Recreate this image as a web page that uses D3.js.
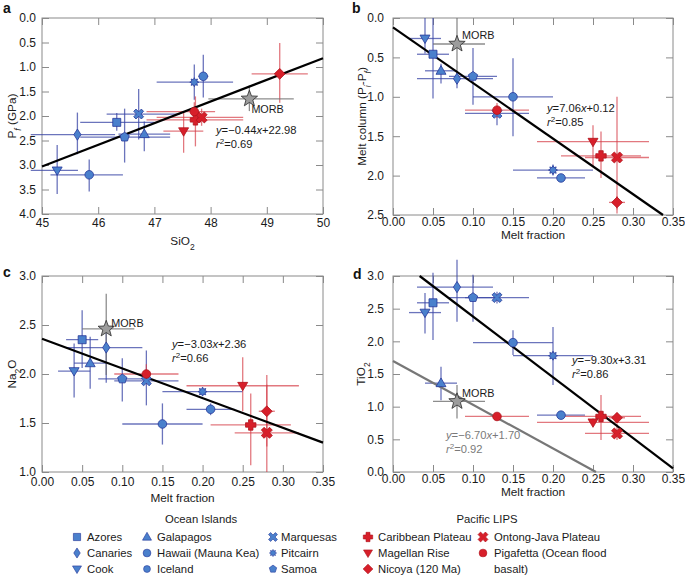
<!DOCTYPE html>
<html><head><meta charset="utf-8">
<script src="https://cdn.jsdelivr.net/npm/d3@7"></script>
<style>
body{margin:0;background:#fff;}
svg{display:block;font-family:"Liberation Sans",Arial,Helvetica,sans-serif;}
</style>
</head><body>
<svg id="chart" width="685" height="576"></svg>
<script>
// ---------------- DATA ----------------
const sites = ["Azores","Canaries","Cook","Galapagos","Hawaii (Mauna Kea)","Iceland","Marquesas","Pitcairn","Samoa",
  "Caribbean Plateau","Magellan Rise","Nicoya (120 Ma)","Ontong-Java Plateau","Pigafetta (Ocean flood basalt)","MORB"];
const siteGroup = ["OI","OI","OI","OI","OI","OI","OI","OI","OI","LIP","LIP","LIP","LIP","LIP","MORB"];
const siteShape = ["square","diamond","triDown","triUp","circle","circle","cross","asterisk","pentagon",
  "plus","triDown","diamondWide","xThick","circle","star"];

// Panel a: SiO2 vs Pf (GPa)
const sio2   = [46.33,45.63,45.27,46.82,45.84,47.87,46.72,47.71,46.47,47.73,47.52,49.23,47.84,47.71,48.69];
const sio2Lo = [45.68,44.80,44.80,46.36,45.15,47.78,46.15,47.04,45.68,46.86,47.16,48.73,47.04,46.86,47.96];
const sio2Hi = [47.00,46.30,45.64,47.28,46.44,47.96,47.45,48.40,47.28,48.58,47.87,49.73,48.58,48.08,49.48];
const pf     = [2.13,2.38,3.11,2.37,3.20,1.19,1.96,1.31,2.43,2.08,2.31,1.14,2.03,1.91,1.65];
const pfLo   = [1.94,1.93,2.59,2.11,2.89,0.75,1.45,0.95,1.85,1.60,1.92,0.51,1.85,1.72,1.38];
const pfHi   = [2.30,2.78,3.59,2.72,3.54,1.62,2.48,1.67,2.95,2.62,2.75,1.73,2.20,2.10,1.90];

// Melt fraction (panels b, c, d)
const meltFraction = [0.05,0.08,0.04,0.06,0.15,0.21,0.13,0.20,0.10,0.26,0.25,0.28,0.28,0.13,0.08];
const meltLo       = [0.03,0.03,0.02,0.04,0.10,0.18,0.09,0.15,0.07,0.21,0.18,0.27,0.24,0.09,0.05];
const meltHi       = [0.07,0.125,0.06,0.08,0.20,0.24,0.17,0.25,0.13,0.31,0.32,0.29,0.32,0.17,0.115];

// Panel b: melt column (Pi-Pf)
const meltColumn   = [0.46,0.77,0.26,0.67,1.00,2.03,1.21,1.93,0.74,1.75,1.57,2.34,1.77,1.17,0.33];
const meltColumnLo = [0.00,0.70,0.00,0.58,0.51,1.98,1.12,1.86,0.38,1.44,1.36,2.26,1.00,1.08,0.00];
const meltColumnHi = [1.02,0.89,0.45,0.83,1.50,2.08,1.36,2.00,1.10,2.03,1.89,2.43,2.48,1.27,0.75];

// Panel c: Na2O
const na2o   = [2.35,2.27,2.03,2.11,1.49,1.64,1.93,1.82,1.95,1.48,1.88,1.62,1.40,2.00,2.46];
const na2oLo = [2.06,1.91,1.76,1.85,1.28,1.58,1.68,1.78,1.72,1.07,1.62,1.26,1.00,1.90,1.99];
const na2oHi = [2.65,2.47,2.31,2.38,1.70,1.70,2.24,1.86,2.16,1.80,2.17,1.99,1.89,2.10,2.82];

// Panel d: TiO2
const tio2   = [2.59,2.83,2.44,1.36,1.98,0.87,2.67,1.78,2.67,0.85,0.76,0.83,0.59,0.85,1.08];
const tio2Lo = [2.02,2.30,2.12,1.10,1.79,0.83,2.58,1.33,2.30,0.49,0.70,0.78,0.49,0.80,0.82];
const tio2Hi = [3.05,3.25,2.74,1.61,2.17,0.91,2.76,2.22,3.02,1.18,0.82,0.88,0.74,0.90,1.33];

// Regression lines (end points) and labels
const fitAx = [45, 50],      fitAy = [3.03, 0.82];
const fitBx = [0, 0.3375],   fitBy = [0.12, 2.50];
const fitCx = [0, 0.35],     fitCy = [2.36, 1.30];
const fitDx = [0.0333, 0.35], fitDy = [3.00, 0.055];
const fitD2x = [0, 0.2537],  fitD2y = [1.70, 0.00];
const fitLabels = [
  ["−0.44","+22.98","0.69"],
  ["7.06","+0.12","0.85"],
  ["−3.03","+2.36","0.66"],
  ["−9.30","+3.31","0.86"],
  ["−6.70","+1.70","0.92"]
];

// Tick values
const sio2Ticks = [45,46,47,48,49,50];
const pfTicks = [0,0.5,1,1.5,2,2.5,3,3.5,4];
const meltTicks = [0,0.05,0.10,0.15,0.20,0.25,0.30,0.35];
const columnTicks = [0,0.5,1,1.5,2,2.5];
const na2oTicks = [1,1.5,2,2.5,3];
const tio2Ticks = [0,0.5,1,1.5,2,2.5,3];

// ---------------- STYLE ----------------
const STY = {
  OI:   {fill:"#4a80cc", stroke:"#27389a", err:"#3a45a6", errOp:0.75},
  LIP:  {fill:"#d71f2a", stroke:"#b0131c", err:"#d63f48", errOp:0.7},
  MORB: {fill:"#9c9c9c", stroke:"#2b2b2b", err:"#707070", errOp:0.8}
};
const FRAME = "#8a8a8a";
const TICKFS = 12;
const TITLEFS = 11.8;
const FITFS = 11.2;
const svg = d3.select("#chart");

function polyPath(pts){ return "M"+pts.map(p=>p[0].toFixed(2)+","+p[1].toFixed(2)).join("L")+"Z"; }
function regular(n,r){ return d3.range(n).map(i=>{const a=2*Math.PI*i/n; return [r*Math.sin(a), -r*Math.cos(a)];}); }
function starPts(n,ro,ri){ return d3.range(2*n).map(i=>{const r=i%2?ri:ro; const a=Math.PI*i/n; return [r*Math.sin(a), -r*Math.cos(a)];}); }
function plusPts(w,L){ return [[w,-L],[w,-w],[L,-w],[L,w],[w,w],[w,L],[-w,L],[-w,w],[-L,w],[-L,-w],[-w,-w],[-w,-L]]; }
function rot(pts,deg){ const a=deg*Math.PI/180,c=Math.cos(a),s=Math.sin(a); return pts.map(([x,y])=>[x*c-y*s,x*s+y*c]); }

const shapePaths = {
  square: polyPath([[-4,-4],[4,-4],[4,4],[-4,4]]),
  diamond: polyPath([[0,-5.6],[3.6,0],[0,5.6],[-3.6,0]]),
  diamondWide: polyPath([[0,-5.4],[5.4,0],[0,5.4],[-5.4,0]]),
  triDown: polyPath([[-5,-3.4],[5,-3.4],[0,5]]),
  triUp: polyPath([[0,-5.2],[5,3.5],[-5,3.5]]),
  circle: d3.symbol(d3.symbolCircle, Math.PI*4.3*4.3)(),
  pentagon: polyPath(regular(5,4.9)),
  cross: polyPath(rot(plusPts(1.6,5.4),45)),
  asterisk: polyPath(starPts(8,4.5,2.7)),
  plus: polyPath(plusPts(2.2,5.2)),
  xThick: polyPath(rot(plusPts(2.0,5.8),45)),
  star: polyPath(starPts(5,8.6,3.6))
};

function richText(g, x, y, segs, opts){
  const fs = opts.size||12;
  const t = g.append("text").attr("x",x).attr("y",y)
    .attr("font-size",fs).attr("fill",opts.fill||"#1a1a1a")
    .attr("text-anchor",opts.anchor||"start");
  if(opts.rotate) t.attr("transform",`rotate(-90,${x},${y})`);
  segs.forEach(s=>{
    const ts = t.append("tspan").text(s.t);
    if(s.it) ts.attr("font-style","italic");
    if(s.sub) ts.attr("baseline-shift","sub").attr("font-size",fs*0.72);
    if(s.sup) ts.attr("baseline-shift","super").attr("font-size",fs*0.72);
  });
  return t;
}

const panels = [
  {letter:"a", lx:3, ly:13, left:42,right:323,top:18,bottom:214,
   x:sio2,xLo:sio2Lo,xHi:sio2Hi,y:pf,yLo:pfLo,yHi:pfHi,
   xDom:[45,50], yDom:[0,4], yDown:true, xTicks:sio2Ticks, yTicks:pfTicks,
   xFmt:d3.format("d"), yFmt:d3.format(".1f"), xPad:4, yPad:6,
   xTitle:[{t:"SiO"},{t:"2",sub:true}], xTitleY:245,
   yTitle:[{t:"P"},{t:"f",sub:true,it:true},{t:" (GPa)"}], yTitleX:16,
   fits:[{x:fitAx,y:fitAy,color:"#000",lab:0,tx:216,ty:134}],
   morb:{dx:2,dy:14}},
  {letter:"b", lx:352, ly:13, left:393,right:673,top:18,bottom:215,
   x:meltFraction,xLo:meltLo,xHi:meltHi,y:meltColumn,yLo:meltColumnLo,yHi:meltColumnHi,
   xDom:[0,0.35], yDom:[0,2.5], yDown:true, xTicks:meltTicks, yTicks:columnTicks,
   xFmt:d3.format(".2f"), yFmt:d3.format(".1f"), xPad:2, yPad:9,
   xTitle:[{t:"Melt fraction"}], xTitleY:239,
   yTitle:[{t:"Melt column (P"},{t:"i",sub:true,it:true},{t:"-P"},{t:"f",sub:true,it:true},{t:")"}], yTitleX:366,
   fits:[{x:fitBx,y:fitBy,color:"#000",lab:1,tx:547,ty:112}],
   morb:{dx:5,dy:-5}},
  {letter:"c", lx:3, ly:277, left:42,right:323,top:276,bottom:472,
   x:meltFraction,xLo:meltLo,xHi:meltHi,y:na2o,yLo:na2oLo,yHi:na2oHi,
   xDom:[0,0.35], yDom:[1,3], yDown:false, xTicks:meltTicks, yTicks:na2oTicks,
   xFmt:d3.format(".2f"), yFmt:d3.format(".1f"), xPad:5.5, yPad:6,
   xTitle:[{t:"Melt fraction"}], xTitleY:502,
   yTitle:[{t:"Na"},{t:"2",sub:true},{t:"O"}], yTitleX:16,
   fits:[{x:fitCx,y:fitCy,color:"#000",lab:2,tx:172,ty:348}],
   morb:{dx:5,dy:-2}},
  {letter:"d", lx:353, ly:279, left:393,right:673,top:276,bottom:472,
   x:meltFraction,xLo:meltLo,xHi:meltHi,y:tio2,yLo:tio2Lo,yHi:tio2Hi,
   xDom:[0,0.35], yDom:[0,3], yDown:false, xTicks:meltTicks, yTicks:tio2Ticks,
   xFmt:d3.format(".2f"), yFmt:d3.format(".1f"), xPad:2, yPad:9,
   xTitle:[{t:"Melt fraction"}], xTitleY:496,
   yTitle:[{t:"TiO"},{t:"2",sub:true}], yTitleX:365,
   fits:[{x:fitDx,y:fitDy,color:"#000",lab:3,tx:572,ty:364},
         {x:fitD2x,y:fitD2y,color:"#777",lab:4,tx:446,ty:439}],
   morb:{dx:5,dy:-4}}
];

panels.forEach(P=>{
  const g = svg.append("g");
  const xs = d3.scaleLinear().domain(P.xDom).range([P.left,P.right]);
  const ys = d3.scaleLinear().domain(P.yDom).range(P.yDown?[P.top,P.bottom]:[P.bottom,P.top]);

  g.append("rect").attr("x",P.left).attr("y",P.top).attr("width",P.right-P.left).attr("height",P.bottom-P.top)
    .attr("fill","none").attr("stroke",FRAME).attr("stroke-width",1);

  const axes = [
    [d3.axisBottom(xs).tickValues(P.xTicks).tickFormat(P.xFmt).tickPadding(P.xPad), `translate(0,${P.bottom})`],
    [d3.axisTop(xs).tickValues(P.xTicks).tickFormat(""), `translate(0,${P.top})`],
    [d3.axisLeft(ys).tickValues(P.yTicks).tickFormat(P.yFmt).tickPadding(P.yPad), `translate(${P.left},0)`],
    [d3.axisRight(ys).tickValues(P.yTicks).tickFormat(""), `translate(${P.right},0)`]
  ];
  axes.forEach(([ax,tr])=>{
    const a = g.append("g").attr("transform",tr).call(ax.tickSizeInner(-7).tickSizeOuter(0));
    a.select(".domain").remove();
    a.selectAll("line").attr("stroke",FRAME);
    a.selectAll("text").attr("font-size",TICKFS).attr("fill","#1a1a1a");
    a.attr("font-family",null);
  });

  richText(g,(P.left+P.right)/2,P.xTitleY,P.xTitle,{anchor:"middle",size:TITLEFS});
  richText(g,P.yTitleX,(P.top+P.bottom)/2,P.yTitle,{anchor:"middle",size:TITLEFS,rotate:true});
  g.append("text").attr("x",P.lx).attr("y",P.ly).text(P.letter)
    .attr("font-size",14).attr("font-weight","bold").attr("fill","#111");

  const idx = d3.range(sites.length);
  const eb = g.append("g");
  idx.forEach(i=>{
    const s = STY[siteGroup[i]];
    eb.append("line").attr("x1",xs(P.xLo[i])).attr("x2",xs(P.xHi[i])).attr("y1",ys(P.y[i])).attr("y2",ys(P.y[i]))
      .attr("stroke",s.err).attr("stroke-opacity",s.errOp).attr("stroke-width",1.3);
    eb.append("line").attr("x1",xs(P.x[i])).attr("x2",xs(P.x[i])).attr("y1",ys(P.yLo[i])).attr("y2",ys(P.yHi[i]))
      .attr("stroke",s.err).attr("stroke-opacity",s.errOp).attr("stroke-width",1.3);
  });

  P.fits.forEach(f=>{
    g.append("line").attr("x1",xs(f.x[0])).attr("y1",ys(f.y[0])).attr("x2",xs(f.x[1])).attr("y2",ys(f.y[1]))
      .attr("stroke",f.color).attr("stroke-width",2.2);
    const L = fitLabels[f.lab];
    const col = f.color==="#000"?"#1a1a1a":"#7a7a7a";
    richText(g,f.tx,f.ty,[{t:"y",it:true},{t:"="+L[0]},{t:"x",it:true},{t:L[1]}],{size:FITFS,fill:col});
    richText(g,f.tx,f.ty+13.5,[{t:"r",it:true},{t:"2",sup:true},{t:"="+L[2]}],{size:FITFS,fill:col});
  });

  idx.forEach(i=>{
    const s = STY[siteGroup[i]];
    g.append("path").attr("d",shapePaths[siteShape[i]])
      .attr("transform",`translate(${xs(P.x[i])},${ys(P.y[i])})`)
      .attr("fill",s.fill).attr("stroke",s.stroke).attr("stroke-width",0.8).attr("stroke-linejoin","round");
  });
  const m = sites.length-1;
  g.append("text").attr("x",xs(P.x[m])+P.morb.dx).attr("y",ys(P.y[m])+P.morb.dy)
    .text("MORB").attr("font-size",10.8).attr("fill","#1a1a1a");
});

// ---------------- LEGEND ----------------
const legendCols = [
  {mx:77, tx:87,  items:[0,1,2]},
  {mx:147,tx:157, items:[3,4,5]},
  {mx:273,tx:281, items:[6,7,8]},
  {mx:368,tx:378, items:[9,10,11]},
  {mx:483,tx:494, items:[12,13]}
];
const rowY = [541,557,573];
const lg = svg.append("g").attr("font-size",11.3).attr("fill","#1a1a1a");
lg.append("text").attr("x",201).attr("y",523).attr("text-anchor","middle").text("Ocean Islands");
lg.append("text").attr("x",487).attr("y",523).attr("text-anchor","middle").text("Pacific LIPS");
legendCols.forEach(c=>{
  c.items.forEach((i,r)=>{
    const s = STY[siteGroup[i]];
    const sc = (i===5||i===8||i===7) ? 0.8 : 0.9;
    lg.append("path").attr("d",shapePaths[siteShape[i]])
      .attr("transform",`translate(${c.mx},${rowY[r]-4}) scale(${sc})`)
      .attr("fill",s.fill).attr("stroke",s.stroke).attr("stroke-width",0.7);
    if(i===13){
      lg.append("text").attr("x",c.tx).attr("y",rowY[r]).text("Pigafetta (Ocean flood");
      lg.append("text").attr("x",c.tx).attr("y",rowY[r+1]).text("basalt)");
    } else {
      lg.append("text").attr("x",c.tx).attr("y",rowY[r]).text(sites[i]);
    }
  });
});
</script>
</body></html>
